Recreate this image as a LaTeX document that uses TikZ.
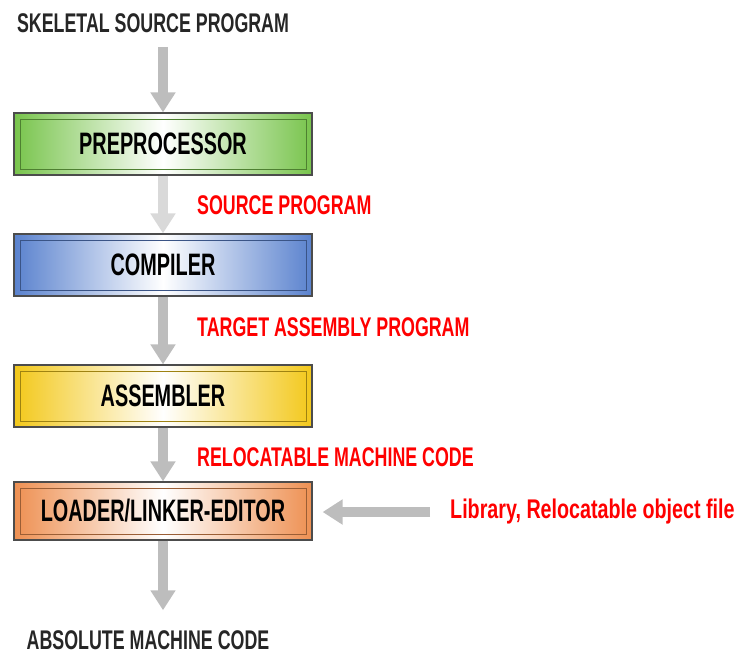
\documentclass[tikz,border=0pt]{standalone}
\usepackage{fontspec}
\newfontfamily\condfont[FakeStretch=0.66]{Liberation Sans Bold}
\newfontfamily\boxfont[FakeStretch=0.64]{Liberation Sans Bold}
\newfontfamily\libfont[FakeStretch=0.73]{Liberation Sans Bold}
\usetikzlibrary{arrows.meta}
\definecolor{stagegreen}{HTML}{78C44C}
\definecolor{stageblue}{HTML}{5A82CE}
\definecolor{stageyellow}{HTML}{F3C81A}
\definecolor{stageorange}{HTML}{EE9052}
\definecolor{flowgray}{HTML}{BDBDBD}
\definecolor{flowlight}{HTML}{D9D9D9}
\tikzset{
  stagebox/.style={draw=black!70, line width=1.2pt, left color=#1, right color=#1,
    middle color=white, minimum width=298pt, minimum height=62pt, inner sep=0pt,
    font=\boxfont\fontsize{31}{31}\selectfont,
    path picture={\draw[#1!65!black, line width=0.8pt]
      ([shift={(6pt,-6pt)}]path picture bounding box.north west) rectangle
      ([shift={(-6pt,6pt)}]path picture bounding box.south east);}},
  flowlabel/.style={inner sep=0pt, anchor=west, text=red,
    font=\condfont\fontsize{27}{27}\selectfont},
  endlabel/.style={inner sep=0pt, text=black!85, font=\condfont\fontsize{27}{27}\selectfont},
  flow/.style={draw=#1, line width=10pt, -{Triangle[width=24pt,length=20pt]}},
  flow/.default=flowgray
}
\begin{document}
\begin{tikzpicture}[x=1pt,y=-1pt]
  \useasboundingbox (0,0) rectangle (735,656);
  % input and output
  \node[endlabel] (skeletal) at (153,23) {SKELETAL SOURCE PROGRAM};
  \node[endlabel] (absolute) at (148,640) {ABSOLUTE MACHINE CODE};
  % the four stages
  \node[stagebox=stagegreen] (prep) at (163,144) {PREPROCESSOR};
  \node[stagebox=stageblue] (comp) at (163,265) {COMPILER};
  \node[stagebox=stageyellow] (asm) at (163,396) {ASSEMBLER};
  \node[stagebox=stageorange, minimum height=58pt] (load) at (163,511) {LOADER/LINKER-EDITOR};
  % labels between stages
  \node[flowlabel] (srclbl) at (197,205) {SOURCE PROGRAM};
  \node[flowlabel] (tgtlbl) at (197,327) {TARGET ASSEMBLY PROGRAM};
  \node[flowlabel] (rellbl) at (197,457) {RELOCATABLE MACHINE CODE};
  \node[flowlabel, font=\libfont\fontsize{27}{27}\selectfont] (liblbl) at (450,512) {Library, Relocatable object file};
  % arrows
  \draw[flow, shorten <=14pt] (skeletal.south -| prep.north) -- (prep);
  \draw[flow=flowlight] (prep) -- (comp);
  \draw[flow] (comp) -- (asm);
  \draw[flow] (asm) -- (load);
  \draw[flow, shorten >=20pt] (load) -- (absolute.north -| load.south);
  \draw[flow, shorten <=20pt, shorten >=10pt] (liblbl.west) -- (liblbl.west -| load.east);
\end{tikzpicture}
\end{document}
